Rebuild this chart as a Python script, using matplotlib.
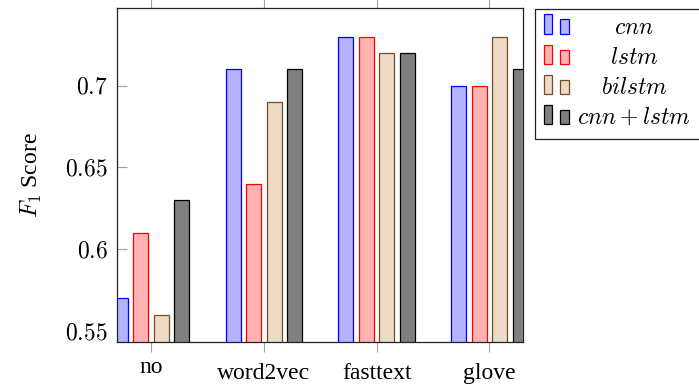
import matplotlib
matplotlib.use("Agg")
import matplotlib.pyplot as plt
import matplotlib.transforms as mtransforms
from matplotlib.patches import Rectangle
import numpy as np

categories = ["no", "word2vec", "fasttext", "glove"]
series_names = ["cnn", "lstm", "bilstm", "cnn + lstm"]
cnn = [0.57, 0.71, 0.73, 0.70]
lstm = [0.61, 0.64, 0.73, 0.70]
bilstm = [0.56, 0.69, 0.72, 0.73]
cnn_lstm = [0.63, 0.71, 0.72, 0.71]
yticks = [0.55, 0.6, 0.65, 0.7]
ytick_labels = ["0.55", "0.6", "0.65", "0.7"]

plt.rcParams["font.family"] = ["Liberation Serif", "DejaVu Serif"]
plt.rcParams["mathtext.fontset"] = "cm"

W, H = 699, 385
fig = plt.figure(figsize=(W / 100, H / 100), dpi=100)
ax = fig.add_axes([117 / W, 1 - 342 / H, (523 - 117) / W, (342 - 8) / H])

fills = ["#b3b3ff", "#ffb3b3", "#ecd9c6", "#808080"]
edges = ["#0000ff", "#ff0000", "#734d26", "#000000"]
offsets = [-0.273, -0.091, 0.091, 0.273]
width = 0.133
x = np.arange(len(categories))
data = [cnn, lstm, bilstm, cnn_lstm]
for vals, off, fc, ec in zip(data, offsets, fills, edges):
    ax.bar(x + off, vals, width=width, facecolor=fc, edgecolor=ec,
           linewidth=0.9, zorder=2)

ax.set_xlim(-0.302, 3.299)
ax.set_ylim(0.5433, 0.7475)
ax.set_yticks(yticks)
ax.set_yticklabels(["$" + t + "$" for t in ytick_labels], fontsize=17)
ax.set_xticks(x)
ax.set_xticklabels(categories, fontsize=17)

ax.tick_params(axis="x", which="both", direction="out", top=True, bottom=True,
               length=7.5, width=0.8, color="#a0a0a0", pad=7.3)
ax.tick_params(axis="y", which="both", direction="in", left=True, right=False,
               length=7.5, width=0.8, color="#a0a0a0", pad=6.5)

for s in ax.spines.values():
    s.set_linewidth(0.9)
    s.set_color("#222222")
ax.spines["right"].set_zorder(1)

# "no" has no ascenders; anchor like pgfplots (top of ink)
lab = ax.get_xticklabels()[0]
lab.set_transform(lab.get_transform() + mtransforms.ScaledTranslation(0, 6 / 100, fig.dpi_scale_trans))

ax.set_ylabel("$F_1$ Score", fontsize=17, labelpad=15)

# legend (drawn manually to mimic pgfplots)
def fx(px):
    return px / W

def fy(py):
    return 1 - py / H

fig.add_artist(Rectangle((fx(535), fy(139)), fx(720) - fx(535), fy(9) - fy(139),
                         transform=fig.transFigure, facecolor="white",
                         edgecolor="#222222", linewidth=0.9, clip_on=False))
for i, (name, fc, ec) in enumerate(zip(series_names, fills, edges)):
    base = 33.5 + 30.2 * i
    fig.add_artist(Rectangle((fx(544.3), fy(base)), fx(552.3) - fx(544.3), fy(base - 19) - fy(base),
                             transform=fig.transFigure, facecolor=fc, edgecolor=ec, linewidth=0.9))
    fig.add_artist(Rectangle((fx(560.3), fy(base)), fx(568.5) - fx(560.3), fy(base - 14) - fy(base),
                             transform=fig.transFigure, facecolor=fc, edgecolor=ec, linewidth=0.9))
    fig.text(fx(634), fy(base), "$" + name + "$", fontsize=17, ha="center", va="baseline")

fig.savefig("out.png", dpi=100)
